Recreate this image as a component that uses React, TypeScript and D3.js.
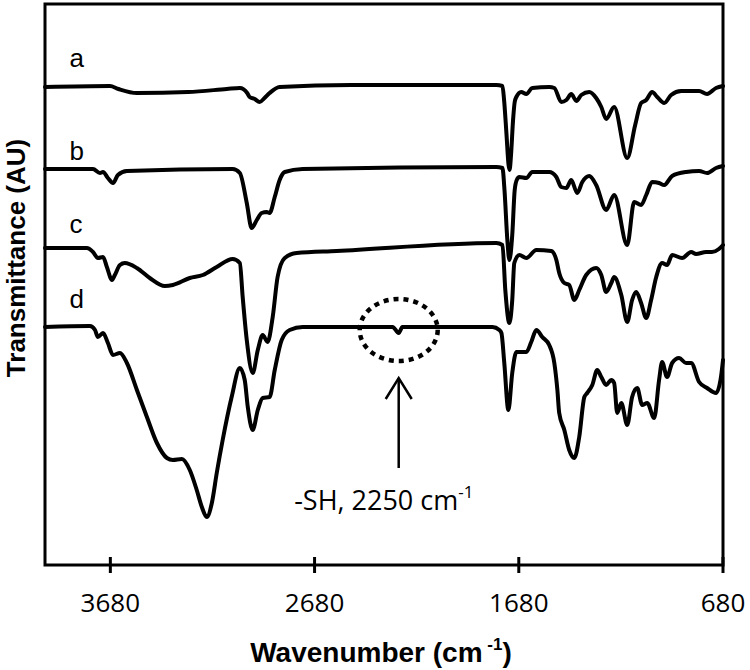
import React from "react";
import * as d3 from "d3";

// Spectra: [wavenumber (cm-1), transmittance (AU, offset)]
const specA: [number, number][] = [
  [4000, 47.8], [3682, 47.9], [3640, 47.6], [3550, 47.2], [3300, 47.3], [3110, 47.6], [3046, 47.7],
  [3010, 47.2], [2998, 46.8], [2973, 46.6], [2949, 46.3], [2925, 46.7], [2900, 47.2], [2851, 47.8],
  [2500, 48.0], [1790, 48.0], [1760, 47.9], [1752, 46.5], [1740, 43.0], [1730, 40.0], [1725, 39.5],
  [1718, 41.0], [1708, 44.5], [1700, 46.3], [1692, 46.8], [1668, 47.3], [1643, 47.1], [1614, 47.7],
  [1531, 47.8], [1506, 47.7], [1472, 46.3], [1447, 46.5], [1423, 47.1], [1398, 46.4], [1374, 47.0],
  [1335, 47.3], [1301, 46.7], [1276, 45.8], [1252, 44.6], [1213, 45.8], [1149, 40.7], [1110, 44.0],
  [1081, 46.2], [1056, 46.5], [1027, 47.3], [1002, 46.8], [968, 46.2], [934, 47.0], [885, 47.4],
  [797, 47.4], [758, 47.1], [714, 47.7], [680, 47.9],
];

const specB: [number, number][] = [
  [4000, 39.6], [3765, 39.6], [3731, 39.2], [3716, 39.3], [3692, 38.7], [3667, 38.2], [3643, 39.0],
  [3599, 39.4], [3081, 39.6], [3046, 39.2], [3012, 36.2], [2988, 33.7], [2963, 34.5], [2939, 35.2],
  [2914, 35.3], [2900, 35.2], [2875, 36.8], [2851, 38.5], [2826, 39.3], [2738, 39.6], [1790, 39.8],
  [1760, 39.7], [1750, 37.5], [1736, 32.5], [1726, 30.5], [1712, 33.0], [1700, 37.5], [1690, 38.5],
  [1677, 38.8], [1643, 38.7], [1614, 39.3], [1531, 39.3], [1496, 38.8], [1472, 37.8], [1447, 37.7],
  [1423, 38.5], [1394, 37.2], [1369, 38.3], [1335, 38.9], [1301, 38.0], [1252, 35.5], [1213, 37.0],
  [1149, 32.0], [1115, 36.3], [1081, 36.0], [1056, 37.0], [1027, 38.3], [993, 38.2], [968, 38.0],
  [929, 38.9], [861, 39.3], [797, 39.4], [758, 39.2], [714, 39.7], [680, 39.9],
];

const specC: [number, number][] = [
  [4000, 31.7], [3795, 31.7], [3765, 31.3], [3741, 30.7], [3716, 30.8], [3697, 29.8], [3672, 28.5],
  [3658, 29.0], [3633, 30.0], [3609, 30.2], [3550, 29.7], [3487, 28.7], [3413, 27.9], [3374, 28.0],
  [3291, 28.7], [3227, 29.0], [3159, 29.8], [3081, 30.6], [3046, 30.2], [3032, 26.8], [3012, 22.5],
  [2983, 19.2], [2958, 21.5], [2934, 23.0], [2910, 22.3], [2885, 24.8], [2861, 28.8], [2826, 30.7],
  [2768, 31.2], [2572, 31.4], [1790, 32.2], [1760, 32.0], [1746, 27.5], [1726, 24.2], [1712, 26.5],
  [1702, 30.2], [1677, 31.0], [1643, 30.7], [1594, 31.5], [1521, 31.4], [1496, 30.5], [1482, 29.2],
  [1457, 28.2], [1433, 28.0], [1408, 26.5], [1384, 27.5], [1350, 29.0], [1301, 29.7], [1276, 29.0],
  [1252, 27.3], [1227, 28.2], [1213, 28.8], [1178, 27.0], [1149, 24.3], [1125, 26.5], [1105, 27.3],
  [1081, 26.2], [1056, 24.7], [1032, 26.5], [1007, 28.8], [978, 30.2], [954, 30.0], [929, 31.0],
  [880, 30.7], [836, 31.3], [812, 31.1], [763, 31.3], [734, 31.3], [700, 31.6], [680, 32.0],
];

const specD: [number, number][] = [
  [4000, 23.8], [3780, 23.9], [3755, 23.5], [3741, 22.8], [3716, 23.2], [3692, 22.2], [3667, 21.0],
  [3633, 21.2], [3599, 20.2], [3550, 17.5], [3501, 14.8], [3452, 12.2], [3403, 10.7], [3374, 10.5],
  [3330, 10.6], [3291, 9.5], [3257, 7.5], [3232, 5.8], [3208, 4.8], [3183, 6.2], [3159, 9.2],
  [3130, 12.5], [3086, 16.8], [3046, 19.7], [3022, 18.5], [3007, 15.8], [2983, 13.5], [2958, 15.5],
  [2934, 16.7], [2900, 16.8], [2875, 19.5], [2841, 22.5], [2802, 23.5], [2738, 23.8], [2298, 23.8],
  [2268, 23.2], [2250, 23.8], [1809, 23.8], [1775, 23.5], [1765, 23.2], [1751, 20.2], [1731, 15.5],
  [1712, 19.2], [1692, 21.3], [1643, 21.3], [1619, 22.3], [1594, 23.5], [1565, 22.8], [1531, 22.0],
  [1506, 20.2], [1491, 17.5], [1482, 15.2], [1457, 13.5], [1433, 11.5], [1408, 10.7], [1384, 12.8],
  [1359, 16.8], [1345, 17.2], [1320, 18.0], [1296, 19.5], [1276, 18.8], [1252, 18.0], [1227, 18.5],
  [1213, 18.2], [1198, 15.2], [1178, 16.2], [1149, 14.0], [1125, 16.8], [1100, 17.7], [1076, 16.0],
  [1051, 16.2], [1017, 14.7], [993, 18.5], [978, 20.3], [954, 18.8], [929, 20.2], [895, 20.7],
  [861, 20.2], [836, 20.2], [797, 18.3], [758, 17.7], [714, 17.2], [690, 18.8], [680, 20.5],
];

const spectra = [specA, specB, specC, specD];
const spectrumLabels = ["a", "b", "c", "d"];
const labelPositions: [number, number][] = [[3880, 49.8], [3880, 40.5], [3880, 33.2], [3880, 25.7]];
const xTicks = [3680, 2680, 1680, 680];
const xDomain: [number, number] = [4000, 680];
const yDomain: [number, number] = [0, 56];
const shPeak: [number, number] = [2268, 23.5];
const arrowFrom: [number, number] = [2268, 9.7];
const arrowTo: [number, number] = [2268, 18.7];
const noteAnchor: [number, number] = [2780, 5.5];

export default function App() {
  const W = 750, H = 670;
  const left = 45, right = 723, top = 4, bottom = 565;
  const x = d3.scaleLinear().domain(xDomain).range([left, right]);
  const y = d3.scaleLinear().domain(yDomain).range([bottom, top + 1]);
  const line = d3
    .line<[number, number]>()
    .x((d) => x(d[0]))
    .y((d) => y(d[1]))
    .curve(d3.curveMonotoneX);

  const ax = x(arrowTo[0]);
  const ay = y(arrowTo[1]);

  return (
    <svg width={W} height={H} style={{ display: "block", position: "absolute", left: 0, top: 0 }}>
      <rect x={0} y={0} width={W} height={H} fill="#fff" />
      {spectra.map((s, i) => (
        <path key={i} d={line(s) || ""} fill="none" stroke="#000" strokeWidth={4} strokeLinejoin="round" strokeLinecap="round" />
      ))}
      <rect x={left} y={top} width={right - left} height={bottom - top} fill="none" stroke="#000" strokeWidth={3} />
      {xTicks.map((t) => (
        <g key={t}>
          <line x1={x(t)} x2={x(t)} y1={bottom - 8} y2={bottom + 8} stroke="#000" strokeWidth={3} />
          <text x={x(t)} y={612} textAnchor="middle" fontFamily="'Open Sans', sans-serif" fontSize={26} fill="#000">
            {t}
          </text>
        </g>
      ))}
      {spectrumLabels.map((l, i) => (
        <text key={l} x={x(labelPositions[i][0])} y={y(labelPositions[i][1])} fontFamily="'Liberation Sans', Arial, sans-serif" fontSize={26} fill="#000">
          {l}
        </text>
      ))}
      <ellipse cx={x(shPeak[0])} cy={y(shPeak[1])} rx={39} ry={31} fill="none" stroke="#000" strokeWidth={4.5} strokeDasharray="5 5" />
      <line x1={x(arrowFrom[0])} x2={ax} y1={y(arrowFrom[1])} y2={ay} stroke="#000" strokeWidth={2.5} />
      <polyline points={`${ax - 13},${ay + 21} ${ax},${ay} ${ax + 13},${ay + 21}`} fill="none" stroke="#000" strokeWidth={2.5} />
      <text x={x(noteAnchor[0])} y={y(noteAnchor[1])} fontFamily="'Open Sans', sans-serif" fontSize={27} fill="#000">
        -SH, 2250 cm<tspan dy={-12} fontSize={17}>-1</tspan>
      </text>
      <text x={381} y={662} textAnchor="middle" fontFamily="'Liberation Sans', Arial, sans-serif" fontWeight="bold" fontSize={28} fill="#000">
        Wavenumber (cm<tspan dy={-12} fontSize={17}> -1</tspan><tspan dy={12}>)</tspan>
      </text>
      <text transform={`translate(25, 258) rotate(-90)`} textAnchor="middle" fontFamily="'Liberation Sans', Arial, sans-serif" fontWeight="bold" fontSize={26} fill="#000">
        Transmittance (AU)
      </text>
    </svg>
  );
}
